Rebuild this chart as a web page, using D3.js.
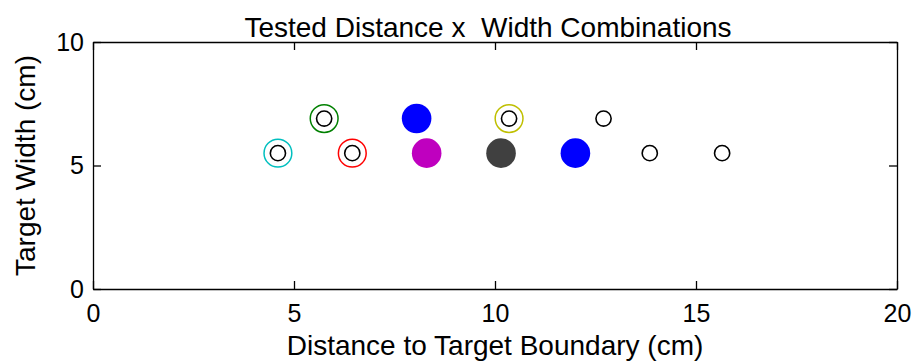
<!DOCTYPE html>
<html>
<head>
<meta charset="utf-8">
<script src="https://cdn.jsdelivr.net/npm/d3@7"></script>
<style>
  body { margin: 0; background: #fff; }
  text { font-family: "Liberation Sans", Arial, Helvetica, sans-serif; }
  .axis path, .axis line { stroke: #000; stroke-width: 1.3; }
  .axis text { font-size: 25px; fill: #000; }
</style>
</head>
<body>
<svg id="chart" width="919" height="364"></svg>
<script>
// plain black open circles (all of the small rings)
let openX = [4.6, 5.75, 6.45, 10.35, 12.7, 13.85, 15.65],
    openY = [5.5, 6.9, 5.5, 6.9, 6.9, 5.5, 5.5];

// coloured rings around some of them
let ringX = [4.6, 5.75, 6.45, 10.35],
    ringY = [5.5, 6.9, 5.5, 6.9],
    ringColors = ["#00bfbf", "#008000", "#ff0000", "#bfbf00"];

// filled markers
let fillX = [8.05, 8.3, 10.15, 12.0],
    fillY = [6.9, 5.5, 5.5, 5.5],
    fillColors = ["#0000ff", "#bf00bf", "#404040", "#0000ff"];

let xTicks = [0, 5, 10, 15, 20],
    yTicks = [0, 5, 10];

let svg = d3.select("#chart"),
    margin = { top: 42, right: 22, bottom: 75, left: 93 },
    width = 919 - margin.left - margin.right,
    height = 364 - margin.top - margin.bottom;

let g = svg.append("g")
    .attr("transform", `translate(${margin.left},${margin.top})`);

let xScale = d3.scaleLinear().domain([0, 20]).range([0, width]);
let yScale = d3.scaleLinear().domain([0, 10]).range([height, 0]);

// box + inward ticks on all four sides
g.append("g")
    .attr("class", "axis")
    .attr("transform", `translate(0,${height})`)
    .call(d3.axisBottom(xScale).tickValues(xTicks).tickSizeInner(-8).tickSizeOuter(0).tickPadding(15));
g.append("g")
    .attr("class", "axis")
    .call(d3.axisTop(xScale).tickValues(xTicks).tickSizeInner(-8).tickSizeOuter(0).tickFormat(""));
g.append("g")
    .attr("class", "axis")
    .call(d3.axisLeft(yScale).tickValues(yTicks).tickSizeInner(-8).tickSizeOuter(0).tickPadding(9));
g.append("g")
    .attr("class", "axis")
    .attr("transform", `translate(${width},0)`)
    .call(d3.axisRight(yScale).tickValues(yTicks).tickSizeInner(-8).tickSizeOuter(0).tickFormat(""));

g.selectAll(".domain").attr("fill", "none");

// filled circles
g.selectAll(".filled")
    .data(fillX)
    .enter()
    .append("circle")
    .attr("cx", function (d) { return xScale(d); })
    .attr("cy", function (d, i) { return yScale(fillY[i]); })
    .attr("r", 14.8)
    .attr("fill", function (d, i) { return fillColors[i]; });

// coloured rings
g.selectAll(".ring")
    .data(ringX)
    .enter()
    .append("circle")
    .attr("cx", function (d) { return xScale(d); })
    .attr("cy", function (d, i) { return yScale(ringY[i]); })
    .attr("r", 13.9)
    .attr("fill", "none")
    .attr("stroke", function (d, i) { return ringColors[i]; })
    .attr("stroke-width", 1.5);

// small black open circles
g.selectAll(".open")
    .data(openX)
    .enter()
    .append("circle")
    .attr("cx", function (d) { return xScale(d); })
    .attr("cy", function (d, i) { return yScale(openY[i]); })
    .attr("r", 7.6)
    .attr("fill", "none")
    .attr("stroke", "#000")
    .attr("stroke-width", 1.6);

// title and axis labels
svg.append("text")
    .attr("x", 488)
    .attr("y", 37)
    .attr("text-anchor", "middle")
    .style("white-space", "pre")
    .style("font-size", "28px")
    .text("Tested Distance x  Width Combinations");

svg.append("text")
    .attr("x", margin.left + width / 2)
    .attr("y", 355)
    .attr("text-anchor", "middle")
    .style("font-size", "28px")
    .text("Distance to Target Boundary (cm)");

svg.append("text")
    .attr("transform", `translate(35,${margin.top + height / 2}) rotate(-90)`)
    .attr("text-anchor", "middle")
    .style("font-size", "28px")
    .text("Target Width (cm)");
</script>
</body>
</html>
